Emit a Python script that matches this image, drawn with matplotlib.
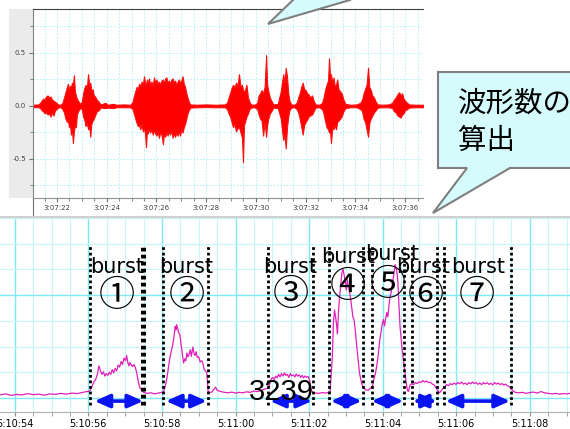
import matplotlib
matplotlib.use('Agg')
import matplotlib.pyplot as plt
from matplotlib.patches import Polygon, Rectangle
from matplotlib.ticker import MultipleLocator, FuncFormatter

# top panel: raw waveform envelope, seconds after 3:07:00
wave_t = [21.03, 21.25,
          21.32, 21.38, 21.44, 21.50, 21.56, 21.62, 21.68, 21.74, 21.80, 21.86, 21.92, 21.98, 22.04, 22.15,
          22.22, 22.28, 22.34, 22.40, 22.44, 22.48, 22.52, 22.56, 22.60, 22.64, 22.68, 22.72, 22.76, 22.80, 22.85, 22.92,
          23.00, 23.05, 23.10, 23.15, 23.20, 23.25, 23.30, 23.34, 23.38, 23.43, 23.48, 23.53, 23.60, 23.68, 23.75,
          23.95, 24.05, 24.25, 24.40, 24.70, 24.95,
          25.04, 25.10, 25.15, 25.20, 25.25, 25.30, 25.35, 25.40, 25.45, 25.50, 25.54, 25.58, 25.62, 25.66, 25.70,
          25.75, 25.80, 25.85, 25.90, 25.95, 26.00, 26.05, 26.10, 26.15, 26.20, 26.26, 26.30, 26.35, 26.40, 26.45,
          26.50, 26.55, 26.60, 26.65, 26.70, 26.75, 26.80, 26.85, 26.90, 26.95, 27.00, 27.05, 27.10, 27.15, 27.20,
          27.25, 27.30, 27.36,
          27.60, 28.00, 28.40, 28.75,
          28.84, 28.90, 28.96, 29.02, 29.08, 29.14, 29.20, 29.26, 29.32, 29.38, 29.44, 29.48, 29.52, 29.56, 29.62,
          29.68, 29.74, 29.80, 29.95,
          30.05, 30.11, 30.17, 30.23, 30.29, 30.35, 30.41, 30.45, 30.50, 30.56, 30.62, 30.70,
          30.88, 30.94, 31.00, 31.06, 31.10, 31.15, 31.20, 31.25, 31.30, 31.35, 31.42, 31.55,
          31.64, 31.70, 31.76, 31.82, 31.88, 31.94, 32.00, 32.06, 32.12, 32.18, 32.26, 32.32, 32.40, 32.55,
          32.66, 32.72, 32.78, 32.84, 32.90, 32.94, 32.98, 33.02, 33.07, 33.12, 33.17, 33.22, 33.27, 33.32, 33.38,
          33.45, 33.52, 33.60, 33.80, 34.05,
          34.20, 34.27, 34.33, 34.39, 34.45, 34.51, 34.56, 34.62, 34.68, 34.75, 34.82, 34.90, 35.10, 35.35,
          35.48, 35.55, 35.62, 35.69, 35.76, 35.82, 35.88, 35.94, 36.00, 36.08, 36.16, 36.40, 36.75]
wave_hi = [0.012, 0.015,
           0.03, 0.05, 0.07, 0.06, 0.09, 0.10, 0.08, 0.09, 0.06, 0.05, 0.04, 0.03, 0.015, 0.012,
           0.03, 0.08, 0.13, 0.18, 0.21, 0.15, 0.19, 0.17, 0.22, 0.20, 0.29, 0.14, 0.10, 0.07, 0.05, 0.02,
           0.04, 0.12, 0.17, 0.20, 0.17, 0.30, 0.19, 0.22, 0.14, 0.16, 0.10, 0.09, 0.06, 0.04, 0.015,
           0.03, 0.012, 0.02, 0.012, 0.015, 0.012,
           0.04, 0.10, 0.14, 0.18, 0.16, 0.21, 0.19, 0.23, 0.20, 0.28, 0.22, 0.20, 0.25, 0.21, 0.26,
           0.20, 0.23, 0.19, 0.27, 0.22, 0.25, 0.21, 0.23, 0.20, 0.24, 0.25, 0.21, 0.26, 0.27, 0.22,
           0.24, 0.21, 0.25, 0.26, 0.22, 0.24, 0.20, 0.23, 0.25, 0.22, 0.24, 0.28, 0.21, 0.18, 0.12,
           0.08, 0.04, 0.015,
           0.012, 0.015, 0.012, 0.015,
           0.03, 0.08, 0.12, 0.17, 0.20, 0.18, 0.22, 0.19, 0.30, 0.18, 0.20, 0.15, 0.14, 0.15, 0.20,
           0.08, 0.04, 0.015, 0.012,
           0.03, 0.10, 0.12, 0.15, 0.12, 0.18, 0.48, 0.20, 0.14, 0.08, 0.05, 0.015,
           0.02, 0.08, 0.14, 0.24, 0.30, 0.22, 0.36, 0.28, 0.12, 0.05, 0.015, 0.012,
           0.03, 0.08, 0.12, 0.18, 0.22, 0.16, 0.15, 0.12, 0.11, 0.08, 0.10, 0.05, 0.015, 0.012,
           0.03, 0.08, 0.15, 0.20, 0.24, 0.45, 0.28, 0.30, 0.22, 0.27, 0.19, 0.20, 0.25, 0.16, 0.14,
           0.12, 0.06, 0.02, 0.012, 0.015,
           0.03, 0.06, 0.12, 0.16, 0.20, 0.36, 0.18, 0.15, 0.10, 0.08, 0.04, 0.015, 0.012, 0.015,
           0.03, 0.06, 0.08, 0.11, 0.13, 0.10, 0.12, 0.07, 0.05, 0.03, 0.015, 0.012, 0.012]
wave_lo = [-0.012, -0.010,
           -0.02, -0.04, -0.05, -0.07, -0.06, -0.08, -0.07, -0.10, -0.06, -0.09, -0.04, -0.03, -0.015, -0.012,
           -0.03, -0.06, -0.12, -0.15, -0.13, -0.20, -0.17, -0.27, -0.21, -0.35, -0.24, -0.18, -0.20, -0.08, -0.05, -0.02,
           -0.03, -0.10, -0.13, -0.19, -0.16, -0.22, -0.20, -0.29, -0.17, -0.14, -0.12, -0.09, -0.05, -0.04, -0.015,
           -0.02, -0.015, -0.02, -0.012, -0.012, -0.012,
           -0.03, -0.08, -0.12, -0.16, -0.19, -0.18, -0.22, -0.17, -0.24, -0.21, -0.26, -0.39, -0.22, -0.26, -0.21,
           -0.25, -0.22, -0.27, -0.23, -0.26, -0.28, -0.24, -0.30, -0.25, -0.27, -0.36, -0.26, -0.29, -0.25, -0.28,
           -0.24, -0.27, -0.23, -0.30, -0.26, -0.29, -0.25, -0.28, -0.24, -0.28, -0.22, -0.25, -0.20, -0.17, -0.12,
           -0.07, -0.04, -0.015,
           -0.012, -0.010, -0.012, -0.012,
           -0.03, -0.07, -0.10, -0.15, -0.20, -0.17, -0.24, -0.21, -0.20, -0.25, -0.30, -0.53, -0.18, -0.15, -0.10,
           -0.07, -0.03, -0.015, -0.012,
           -0.03, -0.08, -0.12, -0.14, -0.28, -0.15, -0.29, -0.18, -0.12, -0.07, -0.05, -0.015,
           -0.02, -0.07, -0.12, -0.25, -0.32, -0.28, -0.40, -0.20, -0.10, -0.04, -0.015, -0.012,
           -0.03, -0.06, -0.12, -0.19, -0.27, -0.18, -0.15, -0.13, -0.10, -0.09, -0.08, -0.05, -0.015, -0.012,
           -0.03, -0.07, -0.14, -0.20, -0.22, -0.25, -0.24, -0.35, -0.20, -0.22, -0.18, -0.22, -0.15, -0.14, -0.12,
           -0.10, -0.05, -0.02, -0.012, -0.012,
           -0.03, -0.05, -0.12, -0.15, -0.22, -0.29, -0.16, -0.12, -0.09, -0.06, -0.04, -0.015, -0.012, -0.012,
           -0.02, -0.05, -0.06, -0.09, -0.10, -0.11, -0.08, -0.07, -0.04, -0.03, -0.015, -0.012, -0.012]

# bottom panel: envelope trace, seconds after 5:10:00
env_t = [53.60, 53.75, 53.90, 54.05, 54.20, 54.35, 54.50, 54.65, 54.80, 54.95, 55.10, 55.25, 55.40, 55.55,
         55.70, 55.85, 55.95,
         56.00, 56.05, 56.10, 56.15, 56.20, 56.25, 56.29, 56.33, 56.37, 56.41, 56.45, 56.49, 56.53, 56.57,
         56.61, 56.65, 56.69, 56.73, 56.77, 56.81, 56.85, 56.89, 56.93, 56.97, 57.01, 57.04, 57.07, 57.10,
         57.13, 57.16, 57.20, 57.24, 57.28, 57.32, 57.36, 57.40, 57.45, 57.50,
         57.60, 57.70, 57.80, 57.90, 58.00,
         58.04, 58.09, 58.13, 58.17, 58.22, 58.26, 58.30, 58.33, 58.36, 58.38, 58.40, 58.43, 58.45, 58.49,
         58.52, 58.54, 58.57, 58.59, 58.62, 58.65, 58.68, 58.71, 58.74, 58.77, 58.80, 58.84, 58.87, 58.90,
         58.93, 58.96, 59.00, 59.04, 59.08, 59.11, 59.15, 59.19, 59.22, 59.24, 59.26,
         59.35, 59.42, 59.46, 59.50, 59.60, 59.70, 59.80, 59.90, 60.00, 60.10, 60.20, 60.30, 60.40, 60.50,
         60.60, 60.70, 60.80, 60.88,
         60.93, 60.97, 61.01, 61.05, 61.09, 61.13, 61.17, 61.21, 61.25, 61.29, 61.33, 61.37, 61.41, 61.45,
         61.49, 61.53, 61.57, 61.61, 61.65, 61.69, 61.73, 61.77, 61.81, 61.85, 61.89, 61.93, 61.97, 62.01,
         62.05, 62.09,
         62.15, 62.25, 62.35, 62.45, 62.53,
         62.57, 62.60, 62.63, 62.66, 62.69, 62.72, 62.75, 62.77, 62.80, 62.83, 62.86, 62.89, 62.92, 62.95,
         62.98, 63.01, 63.04, 63.07, 63.10, 63.13, 63.16, 63.19, 63.22, 63.25, 63.28, 63.31, 63.34, 63.37,
         63.40, 63.43, 63.48, 63.55, 63.61, 63.66,
         63.72, 63.76, 63.80, 63.84, 63.88, 63.92, 63.96, 63.99, 64.02, 64.05, 64.08, 64.11, 64.14, 64.17,
         64.20, 64.23, 64.26, 64.29, 64.32, 64.34, 64.36, 64.38, 64.41, 64.44, 64.47, 64.50, 64.53, 64.56,
         64.59, 64.63, 64.67, 64.70,
         64.74, 64.79, 64.84, 64.89, 64.94, 64.99, 65.04, 65.09, 65.14, 65.19, 65.24, 65.29, 65.34, 65.39,
         65.44, 65.49, 65.54, 65.59, 65.64,
         65.69, 65.74, 65.79, 65.84, 65.89, 65.94, 65.99, 66.04, 66.09, 66.14, 66.19, 66.24, 66.29, 66.34,
         66.39, 66.44, 66.49, 66.54, 66.59, 66.64, 66.69, 66.74, 66.79, 66.84, 66.89, 66.94, 66.99, 67.04,
         67.09, 67.14, 67.19, 67.24, 67.29, 67.34, 67.39, 67.44, 67.49, 67.54, 67.60,
         67.70, 67.80, 67.90, 68.00, 68.10, 68.20, 68.30, 68.40, 68.50, 68.60, 68.70, 68.80, 68.90, 69.00, 69.10]
env_v = [0.12, 0.16, 0.10, 0.14, 0.12, 0.17, 0.13, 0.15, 0.11, 0.16, 0.14, 0.18, 0.15, 0.19,
         0.17, 0.22, 0.25,
         0.25, 0.30, 0.45, 0.62, 0.72, 0.95, 1.25, 1.05, 0.92, 1.02, 0.85, 0.95, 0.88, 1.00,
         0.92, 1.10, 0.98, 1.15, 1.05, 1.28, 1.20, 1.42, 1.30, 1.55, 1.45, 1.65, 1.40, 1.25,
         1.38, 1.30, 1.22, 1.30, 1.18, 0.95, 0.62, 0.40, 0.30, 0.22,
         0.18, 0.20, 0.16, 0.19, 0.22,
         0.22, 0.45, 0.72, 1.10, 1.60, 1.85, 2.12, 2.40, 2.78, 2.65, 2.85, 2.70, 2.55, 2.45,
         2.10, 1.88, 1.55, 1.36, 1.52, 1.45, 1.75, 1.60, 1.70, 1.88, 1.62, 1.98, 1.75, 1.65,
         1.80, 1.58, 1.60, 1.40, 1.45, 1.36, 1.10, 1.05, 0.97, 0.60, 0.22,
         0.22, 0.35, 0.42, 0.30, 0.25, 0.22, 0.20, 0.23, 0.19, 0.22, 0.20, 0.24, 0.22, 0.27,
         0.25, 0.30, 0.35, 0.38,
         0.55, 0.75, 0.80, 0.72, 0.85, 0.78, 0.92, 0.82, 0.95, 0.85, 0.98, 0.88, 0.92, 0.80,
         0.95, 0.86, 0.90, 0.82, 0.93, 0.85, 0.90, 0.80, 0.88, 0.78, 0.86, 0.80, 0.84, 0.72,
         0.35, 0.22,
         0.20, 0.18, 0.21, 0.19, 0.22,
         0.25, 0.90, 1.55, 2.90, 3.42, 3.15, 2.80, 2.50, 3.40, 3.95, 4.40, 4.85, 5.02, 4.80,
         4.55, 4.20, 4.60, 4.35, 4.10, 3.85, 3.50, 3.15, 3.05, 2.70, 2.25, 1.80, 1.40, 0.97,
         0.75, 0.55, 0.40, 0.31, 0.30, 0.38,
         0.45, 0.72, 0.95, 1.25, 1.70, 2.25, 2.62, 2.90, 3.05, 2.80, 3.10, 3.32, 3.15, 3.60,
         3.95, 4.10, 4.40, 4.72, 5.00, 5.18, 5.05, 4.98, 4.55, 3.65, 2.80, 2.30, 1.85, 1.50,
         1.15, 0.70, 0.30, 0.25,
         0.50, 0.55, 0.52, 0.60, 0.56, 0.63, 0.60, 0.68, 0.62, 0.66, 0.60, 0.62, 0.55, 0.52,
         0.42, 0.30, 0.20, 0.28, 0.38,
         0.45, 0.52, 0.48, 0.56, 0.52, 0.58, 0.53, 0.60, 0.55, 0.62, 0.54, 0.58, 0.52, 0.60,
         0.55, 0.62, 0.56, 0.60, 0.53, 0.58, 0.52, 0.60, 0.55, 0.59, 0.53, 0.57, 0.51, 0.60,
         0.54, 0.58, 0.52, 0.56, 0.50, 0.54, 0.47, 0.45, 0.35, 0.28, 0.22,
         0.20, 0.22, 0.18, 0.21, 0.23, 0.19, 0.25, 0.20, 0.18, 0.16, 0.18, 0.15, 0.17, 0.16, 0.18]

burst_edges = [56.05, 57.49, 58.03, 59.26, 60.89, 62.10, 62.54, 63.47, 63.72, 64.58, 64.80, 65.48, 65.67, 67.50]
thick_edges = [57.49]
arrow_start = [56.17, 58.11, 60.94, 62.59, 63.70, 64.82, 65.71]
arrow_end = [57.49, 59.22, 62.08, 63.43, 64.56, 65.47, 67.46]
burst_nums = ['①', '②', '③', '④', '⑤', '⑥', '⑦']
word_x = [56.79, 58.66, 61.48, 63.07, 64.25, 65.11, 66.60]
word_y = [4.85, 4.85, 4.85, 5.24, 5.37, 4.85, 4.85]
num_x = [56.77, 58.68, 61.50, 63.05, 64.15, 65.16, 66.57]
num_y = [3.97, 3.97, 4.01, 4.31, 4.40, 3.97, 3.97]
count_text = '3239'
callout_lines = ['波形数の', '算出']

W, H = 570, 429
fig = plt.figure(figsize=(W / 100, H / 100), dpi=100)


def box(x0, y0, x1, y1):
    return [x0 / W, 1 - y1 / H, (x1 - x0) / W, (y1 - y0) / H]


# background strip left of the top screenshot
bg = fig.add_axes([0, 0, 1, 1], zorder=0)
bg.set_xlim(0, W)
bg.set_ylim(H, 0)
bg.axis('off')
bg.add_patch(Rectangle((9, 9), 24, 189, color='#ebebeb', lw=0))
bg.plot([33, 33], [198, 216], color='#707070', lw=0.8)

# ---- top: raw waveform
ax1 = fig.add_axes(box(33, 9, 423, 198), zorder=1)
ax1.fill_between(wave_t, wave_lo, wave_hi, facecolor='#ff0000', edgecolor='#ff1010', lw=0.8)
ax1.set_xlim(21.035, 36.72)
ax1.set_ylim(-0.868, 0.915)
ax1.xaxis.set_major_locator(MultipleLocator(2))
ax1.xaxis.set_minor_locator(MultipleLocator(0.5))
ax1.yaxis.set_major_locator(MultipleLocator(0.5))
ax1.yaxis.set_minor_locator(MultipleLocator(0.25))
ax1.xaxis.set_major_formatter(FuncFormatter(lambda t, p: f"3:07:{int(round(t)):02d}"))
ax1.yaxis.set_major_formatter(FuncFormatter(lambda v, p: f"{v:.1f}"))
ax1.grid(which='both', color='#a6eef3', lw=0.6, linestyle=(0, (2, 2)))
ax1.set_axisbelow(True)
ax1.tick_params(which='both', colors='#707070', labelcolor='#404040', labelsize=5, pad=2)
ax1.tick_params(which='major', length=3)
ax1.tick_params(which='minor', length=2)
ax1.spines['right'].set_visible(False)
ax1.spines['top'].set_color('#404040')
ax1.spines['left'].set_color('#808080')
ax1.spines['bottom'].set_color('#909090')

# ---- bottom: envelope with burst segmentation
ax2 = fig.add_axes(box(0, 217, 570, 412), zorder=1)
ax2.plot(env_t, env_v, color='#e020b8', lw=0.9)
ax2.set_xlim(53.60, 69.09)
ax2.set_ylim(-0.545, 7.04)
ax2.xaxis.set_major_locator(MultipleLocator(2))
ax2.xaxis.set_minor_locator(MultipleLocator(0.5))
ax2.yaxis.set_major_locator(MultipleLocator(4))
ax2.yaxis.set_minor_locator(MultipleLocator(1))
ax2.xaxis.set_major_formatter(FuncFormatter(
    lambda t, p: f"5:{10 + int(round(t)) // 60}:{int(round(t)) % 60:02d}"))
ax2.grid(which='major', color='#7fe8f0', lw=1.0)
ax2.grid(which='minor', color='#c6f6f8', lw=0.8)
ax2.set_axisbelow(True)
ax2.tick_params(axis='x', which='both', length=3, colors='#909090', labelcolor='black',
                labelsize=7, pad=2)
ax2.tick_params(axis='y', which='both', left=False, labelleft=False)
for s in ['left', 'right']:
    ax2.spines[s].set_visible(False)
ax2.spines['top'].set_color('#d0d0d0')
ax2.spines['top'].set_linewidth(1.5)
ax2.spines['bottom'].set_color('#b0b0b0')
ax2.spines['bottom'].set_linewidth(0.8)

for x in burst_edges:
    if x in thick_edges:
        ax2.plot([x, x], [-0.27, 6.0], color='black', lw=3.6, linestyle=(0, (0.75, 0.65)))
    else:
        ax2.plot([x, x], [-0.27, 6.0], color='black', lw=2.0, linestyle=(0, (1, 1)))

for a, b in zip(arrow_start, arrow_end):
    ax2.annotate('', xy=(b, -0.12), xytext=(a, -0.12),
                 arrowprops=dict(arrowstyle='<|-|>,head_length=0.9,head_width=0.4',
                                 mutation_scale=10, lw=2.6, color='#0a14f0',
                                 shrinkA=0, shrinkB=0))

for x, y in zip(word_x, word_y):
    ax2.text(x, y, 'burst', ha='center', va='baseline', fontsize=15,
             family='DejaVu Sans', color='black')
for s, x, y in zip(burst_nums, num_x, num_y):
    ax2.text(x, y, s, ha='center', va='center', fontsize=26,
             family=['Noto Sans CJK JP', 'DejaVu Sans'], color='black')

# ---- overlay: callouts and count
ov = fig.add_axes([0, 0, 1, 1], zorder=3)
ov.set_xlim(0, W)
ov.set_ylim(H, 0)
ov.axis('off')
ov.add_patch(Polygon([(268, 24), (293, 0), (293, -20), (350, -20), (350, 0)],
                     closed=True, facecolor='#d5fbfd', edgecolor='#7f7f7f', lw=1.5))
ov.add_patch(Polygon([(438, 72), (590, 72), (590, 168), (510, 168), (433, 213), (467, 168), (438, 168)],
                     closed=True, facecolor='#d5fbfd', edgecolor='#7f7f7f', lw=1.5))
ov.text(458, 103.5, callout_lines[0], ha='left', va='center', fontsize=20.5,
        family=['Noto Sans CJK JP'], color='black')
ov.text(458, 140.5, callout_lines[1], ha='left', va='center', fontsize=20.5,
        family=['Noto Sans CJK JP'], color='black')
ov.text(281.7, 392, count_text, ha='center', va='center', fontsize=21,
        family='Liberation Sans', color='black')

fig.savefig('out.png', dpi=100)
